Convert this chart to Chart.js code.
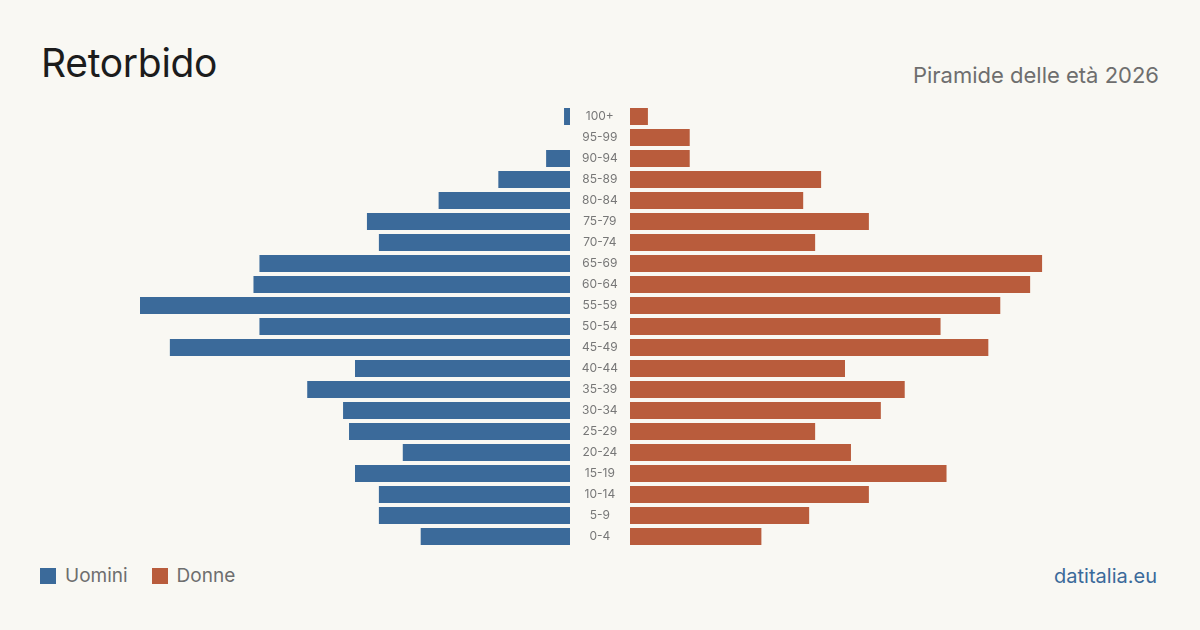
<!DOCTYPE html>
<html>
<head>
<meta charset="utf-8">
<script src="https://cdn.jsdelivr.net/npm/chart.js@4/dist/chart.umd.min.js"></script>
<style>
  html, body { margin: 0; padding: 0; background: #f9f8f3; }
  body { width: 1200px; height: 630px; position: relative; overflow: hidden; font-family: Inter, "Noto Sans", sans-serif; }
  h1 { position: absolute; left: 41px; top: 43px; margin: 0; font-size: 39px; font-weight: 400; color: #1c1c1c; line-height: 1; letter-spacing: -0.3px; }
  .sub { position: absolute; right: 41px; top: 64px; font-size: 22px; color: #6e6e6e; line-height: 1; }
  .legend { position: absolute; left: 40px; top: 565px; font-size: 19px; color: #6e6e6e; display: flex; align-items: center; line-height: 22px; }
  .legend span.sw { display: inline-block; width: 16px; height: 16px; margin-right: 9px; }
  .legend .item { display: flex; align-items: center; margin-right: 24px; }
  .src { position: absolute; right: 43px; top: 565px; font-size: 20px; color: #3b6a9a; line-height: 22px; }
  #left { position: absolute; left: 140px; top: 106px; }
  #right { position: absolute; left: 570px; top: 106px; }
</style>
</head>
<body>
<h1>Retorbido</h1>
<div class="sub">Piramide delle età 2026</div>

<div id="left"><canvas id="leftChart" width="430" height="441"></canvas></div>
<div id="right"><canvas id="rightChart" width="490" height="441"></canvas></div>

<div class="legend">
  <div class="item"><span class="sw" style="background:#3b6a9a"></span>Uomini</div>
  <div class="item"><span class="sw" style="background:#b95c3c"></span>Donne</div>
</div>
<div class="src">datitalia.eu</div>

<script>
// Age groups, top to bottom
const ageGroups = ['100+', '95-99', '90-94', '85-89', '80-84', '75-79', '70-74', '65-69', '60-64', '55-59',
    '50-54', '45-49', '40-44', '35-39', '30-34', '25-29', '20-24', '15-19', '10-14', '5-9', '0-4'];

// Men per age group
const uomini = [1, 0, 4, 12, 22, 34, 32, 52, 53, 72, 52, 67, 36, 44, 38, 37, 28, 36, 32, 32, 25];

// Women per age group
const donne = [3, 10, 10, 32, 29, 40, 31, 69, 67, 62, 52, 60, 36, 46, 42, 31, 37, 53, 40, 30, 22];

const blue = '#3b6a9a';
const orange = '#b95c3c';
const axisMax = Math.max(...uomini, ...donne);

// Shared options for both halves
function baseOptions(reverse) {
    return {
        indexAxis: 'y',
        responsive: false,
        animation: false,
        layout: { padding: 0 },
        plugins: { legend: { display: false }, tooltip: { enabled: false } },
        scales: {
            x: {
                display: false,
                min: 0,
                max: axisMax,
                reverse: reverse
            },
            y: {
                display: false,
                grid: { display: false },
                border: { display: false }
            }
        }
    };
}

// Left half: men, growing to the left
new Chart(document.getElementById('leftChart'), {
    type: 'bar',
    data: {
        labels: ageGroups,
        datasets: [{
            data: uomini,
            backgroundColor: blue,
            barPercentage: 0.81,
            categoryPercentage: 1
        }]
    },
    options: baseOptions(true)
});

// Right half: women, with the age labels as the y axis in the middle gap
const rightOptions = baseOptions(false);
rightOptions.scales.y = {
    display: true,
    grid: { display: false, drawTicks: false },
    border: { display: false },
    afterFit: (scale) => {
        scale.width = 60;
        scale.paddingTop = 0;
        scale.paddingBottom = 0;
    },
    ticks: {
        crossAlign: 'center',
        padding: 12,
        color: '#777777',
        font: { family: 'Inter', size: 12 }
    }
};

new Chart(document.getElementById('rightChart'), {
    type: 'bar',
    data: {
        labels: ageGroups,
        datasets: [{
            data: donne,
            backgroundColor: orange,
            barPercentage: 0.81,
            categoryPercentage: 1
        }]
    },
    options: rightOptions
});
</script>
</body>
</html>
